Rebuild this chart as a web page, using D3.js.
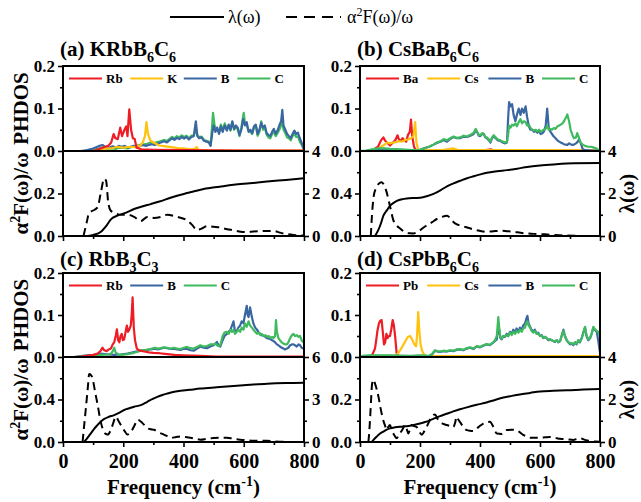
<!DOCTYPE html>
<html>
<head>
<meta charset="utf-8">
<script src="https://cdn.jsdelivr.net/npm/d3@7"></script>
<style>
  body { margin: 0; background: #fff; }
  svg { display: block; }
  #chart text, #chart tspan { font-family: "Liberation Serif", "Times New Roman", Tinos, serif !important; }
</style>
</head>
<body>
<svg id="chart" width="641" height="502"></svg>
<script>
// ---------- axis ticks ----------
const freqTicks = [0, 200, 400, 600, 800];
const freqMinor = [100, 300, 500, 700];
const phdosTicks = [0, 0.1, 0.2];
const phdosMinor = [0.05, 0.15];

// ---------- (a) KRbB6C6 : phonon DOS [frequency cm-1, states] ----------
const aRb = [[0,0],[100,0],[110,0.002],[125,0.006],[140,0.01],[150,0.012],[160,0.02],[168,0.04],[174,0.03],[182,0.028],[190,0.055],[196,0.035],[204,0.05],[210,0.058],[214,0.035],[220,0.098],[226,0.05],[232,0.03],[238,0.028],[244,0.008],[260,0.004],[300,0.003],[400,0.002],[600,0.001],[800,0.001]];
const aK = [[0,0],[100,0],[120,0.003],[140,0.006],[160,0.006],[180,0.01],[200,0.008],[220,0.01],[240,0.009],[255,0.012],[265,0.02],[272,0.035],[277,0.068],[282,0.04],[290,0.025],[300,0.02],[320,0.013],[340,0.011],[360,0.009],[380,0.007],[400,0.006],[420,0.004],[438,0.005],[444,0.009],[450,0.002],[480,0.001],[800,0.001]];
const aB = [[0,0],[60,0],[80,0.002],[100,0.006],[120,0.012],[132,0.014],[140,0.009],[155,0.008],[165,0.011],[175,0.008],[185,0.012],[195,0.01],[205,0.012],[215,0.008],[225,0.01],[235,0.012],[245,0.01],[255,0.012],[265,0.014],[275,0.012],[285,0.014],[295,0.016],[305,0.014],[315,0.018],[325,0.02],[335,0.023],[345,0.02],[355,0.026],[362,0.03],[370,0.026],[378,0.031],[386,0.028],[394,0.033],[402,0.029],[410,0.033],[418,0.027],[426,0.033],[434,0.035],[441,0.07],[446,0.035],[452,0.03],[460,0.032],[468,0.024],[476,0.022],[484,0.02],[490,0.012],[496,0.045],[500,0.06],[506,0.045],[512,0.055],[518,0.04],[524,0.058],[530,0.045],[537,0.06],[544,0.048],[550,0.062],[556,0.05],[562,0.07],[568,0.052],[574,0.06],[580,0.055],[586,0.038],[592,0.05],[598,0.075],[604,0.06],[610,0.068],[616,0.045],[622,0.05],[628,0.042],[634,0.058],[640,0.062],[646,0.04],[652,0.05],[658,0.066],[664,0.055],[670,0.06],[676,0.042],[682,0.038],[688,0.035],[694,0.045],[700,0.052],[706,0.04],[712,0.048],[718,0.06],[724,0.07],[728,0.097],[732,0.06],[738,0.05],[744,0.04],[750,0.035],[756,0.03],[762,0.04],[768,0.048],[774,0.04],[780,0.043],[786,0.03],[792,0.02],[800,0.005]];
const aC = [[0,0],[70,0],[90,0.002],[110,0.004],[130,0.008],[145,0.005],[160,0.006],[175,0.005],[185,0.008],[200,0.007],[215,0.006],[230,0.01],[245,0.012],[260,0.015],[275,0.016],[290,0.02],[305,0.019],[320,0.022],[335,0.026],[345,0.024],[355,0.029],[362,0.033],[370,0.03],[378,0.035],[386,0.032],[394,0.037],[402,0.033],[410,0.036],[418,0.03],[426,0.036],[434,0.037],[441,0.05],[446,0.037],[452,0.033],[460,0.034],[468,0.026],[476,0.024],[484,0.022],[490,0.014],[495,0.06],[498,0.09],[503,0.06],[510,0.05],[518,0.045],[524,0.062],[530,0.05],[537,0.065],[544,0.05],[550,0.06],[556,0.048],[562,0.068],[568,0.05],[574,0.058],[580,0.05],[586,0.035],[592,0.055],[600,0.09],[604,0.065],[610,0.06],[616,0.048],[622,0.045],[628,0.04],[634,0.055],[640,0.06],[646,0.036],[652,0.045],[658,0.07],[664,0.05],[670,0.055],[676,0.038],[682,0.032],[688,0.03],[694,0.04],[700,0.045],[706,0.035],[712,0.042],[718,0.05],[724,0.06],[728,0.07],[732,0.05],[738,0.042],[744,0.032],[750,0.03],[756,0.025],[762,0.035],[768,0.04],[774,0.033],[780,0.035],[786,0.022],[792,0.015],[800,0.003]];
// (a) electron-phonon: cumulative lambda and alpha^2F/omega
const aLambda = [[84,0],[100,0.05],[126,0.2],[145,0.5],[159,0.78],[181,0.96],[210,1.1],[236,1.27],[265,1.4],[291,1.5],[320,1.62],[357,1.8],[401,1.98],[430,2.08],[467,2.21],[520,2.32],[566,2.41],[620,2.48],[677,2.56],[740,2.64],[800,2.72]];
const aAlpha = [[68,0],[78,0.06],[87,0.11],[100,0.12],[115,0.135],[125,0.2],[137,0.27],[143,0.26],[150,0.16],[158,0.12],[170,0.11],[192,0.1],[214,0.1],[236,0.09],[258,0.07],[280,0.09],[302,0.085],[325,0.09],[346,0.1],[379,0.09],[412,0.073],[430,0.05],[445,0.027],[460,0.035],[478,0.046],[500,0.043],[522,0.04],[545,0.032],[566,0.027],[590,0.02],[610,0.018],[632,0.021],[654,0.023],[680,0.024],[699,0.024],[720,0.016],[743,0.009],[765,0.005],[787,0.003],[800,0.002]];

// ---------- (b) CsBaB6C6 ----------
const bBa = [[0,0],[30,0],[45,0.003],[60,0.01],[70,0.025],[78,0.032],[84,0.024],[90,0.02],[100,0.013],[110,0.02],[118,0.026],[125,0.037],[130,0.027],[136,0.024],[142,0.03],[148,0.026],[154,0.022],[160,0.038],[166,0.045],[170,0.074],[174,0.035],[180,0.01],[186,0.002],[200,0.001],[300,0.001],[420,0.002],[435,0.004],[450,0.001],[800,0.001]];
const bCs = [[0,0],[50,0],[60,0.004],[70,0.01],[80,0.014],[90,0.02],[100,0.018],[110,0.02],[120,0.021],[130,0.023],[140,0.022],[150,0.026],[160,0.027],[170,0.03],[178,0.035],[184,0.068],[188,0.02],[194,0.003],[220,0.002],[280,0.003],[300,0.005],[312,0.006],[325,0.003],[400,0.002],[600,0.002],[800,0.001]];
const bB = [[0,0],[20,0],[40,0.002],[60,0.004],[80,0.005],[100,0.004],[130,0.003],[160,0.002],[190,0.002],[200,0.003],[215,0.007],[230,0.01],[245,0.015],[256,0.019],[268,0.022],[279,0.026],[290,0.022],[300,0.028],[312,0.033],[322,0.03],[334,0.03],[345,0.034],[357,0.033],[368,0.036],[379,0.04],[386,0.048],[390,0.045],[396,0.036],[401,0.035],[407,0.04],[412,0.04],[418,0.032],[423,0.03],[430,0.025],[435,0.02],[440,0.03],[446,0.035],[452,0.03],[460,0.025],[468,0.024],[476,0.02],[484,0.018],[490,0.02],[494,0.08],[497,0.115],[502,0.105],[507,0.11],[512,0.085],[518,0.07],[523,0.085],[529,0.1],[535,0.085],[540,0.1],[546,0.09],[552,0.105],[557,0.08],[563,0.058],[568,0.05],[574,0.05],[580,0.045],[586,0.048],[591,0.043],[597,0.047],[602,0.04],[608,0.042],[613,0.046],[619,0.06],[624,0.1],[629,0.055],[635,0.045],[640,0.04],[646,0.034],[652,0.03],[658,0.025],[664,0.022],[669,0.02],[675,0.018],[680,0.016],[686,0.015],[691,0.014],[697,0.018],[702,0.016],[708,0.014],[713,0.015],[720,0.018],[726,0.022],[730,0.028],[735,0.02],[742,0.005],[750,0.002],[800,0]];
const bC = [[0,0],[20,0.001],[40,0.004],[60,0.006],[80,0.006],[100,0.005],[130,0.004],[160,0.003],[190,0.002],[200,0.003],[215,0.006],[230,0.01],[245,0.015],[256,0.02],[268,0.023],[279,0.028],[290,0.025],[300,0.03],[312,0.034],[322,0.031],[334,0.032],[345,0.036],[357,0.034],[368,0.038],[379,0.043],[386,0.052],[390,0.046],[396,0.038],[401,0.037],[407,0.042],[412,0.041],[418,0.033],[423,0.032],[430,0.027],[435,0.022],[440,0.032],[446,0.037],[452,0.032],[460,0.027],[468,0.025],[476,0.022],[484,0.02],[490,0.022],[494,0.04],[497,0.06],[502,0.055],[507,0.062],[512,0.06],[518,0.065],[523,0.058],[529,0.068],[535,0.075],[540,0.065],[546,0.07],[552,0.068],[557,0.06],[563,0.062],[568,0.055],[574,0.05],[580,0.048],[586,0.05],[591,0.046],[597,0.05],[602,0.045],[608,0.048],[613,0.05],[619,0.052],[624,0.06],[629,0.05],[635,0.052],[640,0.05],[646,0.054],[652,0.052],[658,0.058],[664,0.06],[669,0.062],[675,0.065],[680,0.07],[686,0.078],[691,0.086],[697,0.07],[702,0.05],[708,0.038],[713,0.03],[720,0.032],[724,0.042],[728,0.035],[735,0.02],[742,0.015],[750,0.012],[760,0.01],[770,0.01],[780,0.008],[790,0.005],[800,0]];
const bLambda = [[50,0],[60,0.25],[70,0.6],[78,0.96],[90,1.22],[100,1.42],[112,1.56],[123,1.65],[140,1.73],[156,1.77],[180,1.79],[201,1.8],[225,1.88],[245,1.98],[268,2.15],[290,2.34],[312,2.48],[334,2.6],[357,2.72],[379,2.81],[401,2.9],[423,2.98],[457,3.05],[490,3.1],[524,3.17],[557,3.25],[600,3.32],[646,3.37],[713,3.42],[800,3.43]];
const bAlpha = [[36,0],[40,0.2],[45,0.36],[53,0.45],[62,0.49],[72,0.507],[80,0.48],[88,0.42],[100,0.28],[111,0.15],[122,0.1],[134,0.07],[145,0.045],[156,0.03],[167,0.025],[178,0.024],[190,0.035],[201,0.055],[212,0.08],[223,0.1],[240,0.13],[256,0.16],[273,0.18],[290,0.19],[300,0.17],[312,0.13],[323,0.11],[334,0.1],[346,0.09],[357,0.08],[375,0.065],[390,0.055],[405,0.045],[423,0.04],[445,0.045],[468,0.049],[490,0.045],[513,0.04],[535,0.03],[557,0.024],[580,0.02],[602,0.018],[624,0.014],[646,0.01],[670,0.006],[691,0.004],[720,0.002],[758,0],[800,0]];

// ---------- (c) RbB3C3 ----------
const cRb = [[0,0],[45,0],[60,0.001],[80,0.003],[100,0.005],[115,0.008],[125,0.015],[131,0.022],[137,0.016],[145,0.014],[152,0.018],[159,0.02],[165,0.03],[170,0.035],[175,0.05],[179,0.066],[183,0.04],[187,0.035],[191,0.05],[195,0.055],[199,0.04],[203,0.042],[208,0.06],[212,0.075],[216,0.06],[220,0.065],[225,0.075],[228,0.1],[231,0.142],[235,0.07],[239,0.04],[245,0.02],[255,0.015],[270,0.013],[285,0.011],[300,0.01],[320,0.009],[346,0.007],[370,0.005],[400,0.004],[456,0.003],[510,0.001],[560,0.001],[800,0.001]];
const cB = [[0,0],[35,0],[60,0.002],[80,0.004],[104,0.005],[126,0.008],[150,0.006],[170,0.005],[190,0.006],[214,0.008],[236,0.012],[250,0.014],[260,0.015],[275,0.016],[291,0.018],[305,0.02],[315,0.018],[324,0.02],[335,0.022],[346,0.021],[357,0.019],[368,0.02],[379,0.018],[390,0.017],[401,0.02],[412,0.019],[423,0.016],[434,0.015],[445,0.02],[456,0.025],[467,0.022],[478,0.021],[489,0.025],[500,0.028],[506,0.032],[511,0.036],[516,0.028],[522,0.025],[530,0.04],[536,0.05],[544,0.055],[550,0.06],[556,0.065],[561,0.075],[566,0.085],[571,0.06],[577,0.062],[582,0.07],[588,0.075],[593,0.085],[599,0.08],[604,0.1],[610,0.122],[613,0.1],[616,0.095],[621,0.118],[627,0.095],[632,0.08],[638,0.07],[644,0.065],[650,0.058],[655,0.055],[660,0.052],[666,0.05],[672,0.048],[677,0.045],[683,0.044],[689,0.042],[694,0.04],[699,0.038],[704,0.035],[710,0.03],[715,0.028],[720,0.025],[726,0.022],[732,0.02],[737,0.018],[743,0.02],[748,0.022],[754,0.028],[760,0.03],[765,0.03],[770,0.028],[776,0.025],[782,0.03],[787,0.028],[792,0.022],[798,0.02],[800,0.02]];
const cC = [[0,0],[35,0],[60,0.001],[80,0.002],[104,0.003],[126,0.005],[150,0.006],[160,0.008],[166,0.015],[170,0.022],[175,0.01],[185,0.006],[195,0.005],[214,0.007],[236,0.01],[250,0.013],[260,0.016],[275,0.017],[291,0.019],[305,0.022],[315,0.02],[324,0.021],[335,0.023],[346,0.022],[357,0.02],[368,0.022],[379,0.02],[390,0.019],[401,0.022],[412,0.024],[423,0.021],[434,0.02],[445,0.024],[456,0.028],[467,0.025],[478,0.026],[489,0.03],[500,0.03],[506,0.032],[511,0.028],[516,0.026],[522,0.028],[530,0.05],[536,0.058],[544,0.06],[550,0.055],[556,0.065],[561,0.06],[566,0.065],[571,0.055],[577,0.06],[582,0.065],[588,0.06],[593,0.07],[599,0.065],[604,0.08],[610,0.072],[616,0.085],[621,0.075],[627,0.07],[632,0.065],[638,0.06],[644,0.055],[650,0.058],[655,0.052],[660,0.055],[666,0.05],[672,0.052],[677,0.048],[683,0.05],[689,0.045],[694,0.048],[699,0.045],[704,0.05],[707,0.088],[710,0.06],[715,0.045],[720,0.04],[726,0.035],[732,0.032],[737,0.03],[743,0.03],[748,0.035],[754,0.045],[760,0.052],[765,0.055],[770,0.05],[776,0.052],[782,0.048],[787,0.05],[792,0.04],[798,0.035],[800,0.035]];
const cLambda = [[70,0],[80,0.25],[93,0.63],[104,0.95],[115,1.21],[126,1.45],[137,1.63],[150,1.76],[170,1.9],[186,2.06],[203,2.26],[220,2.38],[236,2.49],[258,2.6],[280,2.84],[296,3.02],[313,3.19],[330,3.32],[346,3.42],[362,3.51],[379,3.58],[420,3.68],[456,3.77],[510,3.86],[566,3.95],[620,4.04],[677,4.12],[740,4.17],[800,4.19]];
const cAlpha = [[65,0],[70,0.15],[76,0.32],[82,0.5],[87,0.64],[93,0.63],[98,0.6],[106,0.48],[115,0.35],[123,0.22],[131,0.13],[140,0.08],[148,0.07],[159,0.115],[167,0.18],[175,0.24],[184,0.2],[192,0.16],[203,0.11],[214,0.07],[222,0.08],[230,0.115],[238,0.16],[247,0.21],[255,0.2],[263,0.18],[272,0.155],[280,0.13],[291,0.12],[302,0.115],[318,0.09],[335,0.07],[346,0.055],[357,0.04],[373,0.045],[390,0.053],[407,0.047],[423,0.04],[440,0.03],[456,0.022],[478,0.03],[500,0.037],[522,0.04],[544,0.04],[566,0.03],[588,0.022],[610,0.016],[632,0.012],[655,0.011],[677,0.012],[700,0.006],[720,0.003],[765,0],[800,0]];

// ---------- (d) CsPbB6C6 ----------
const dPb = [[0,0],[30,0],[40,0.004],[50,0.02],[55,0.045],[58,0.062],[63,0.08],[67,0.086],[72,0.088],[76,0.06],[80,0.03],[84,0.035],[88,0.055],[92,0.045],[96,0.05],[100,0.05],[104,0.065],[109,0.088],[113,0.075],[117,0.05],[122,0.01],[127,0.002],[140,0],[800,0]];
const dCs = [[0,0],[40,0],[80,0.001],[110,0.002],[122,0.005],[130,0.012],[139,0.022],[145,0.03],[150,0.036],[156,0.044],[161,0.048],[167,0.05],[172,0.044],[178,0.035],[183,0.028],[187,0.026],[190,0.05],[194,0.107],[198,0.06],[202,0.03],[207,0.015],[211,0.008],[220,0.003],[300,0.002],[450,0.002],[800,0.002]];
const dB = [[0,0],[10,0.002],[30,0.003],[60,0.003],[100,0.003],[140,0.003],[170,0.002],[200,0.003],[230,0.002],[240,0.006],[250,0.015],[258,0.013],[267,0.012],[278,0.014],[289,0.013],[300,0.015],[311,0.014],[322,0.017],[333,0.018],[344,0.016],[356,0.02],[367,0.022],[378,0.019],[389,0.025],[400,0.023],[411,0.027],[422,0.03],[433,0.028],[444,0.034],[450,0.038],[456,0.042],[461,0.07],[464,0.065],[468,0.045],[472,0.042],[478,0.05],[483,0.048],[489,0.055],[494,0.05],[500,0.06],[506,0.055],[511,0.065],[517,0.058],[522,0.068],[528,0.06],[533,0.07],[539,0.065],[544,0.075],[550,0.08],[554,0.09],[558,0.098],[562,0.08],[567,0.072],[572,0.065],[578,0.06],[583,0.065],[589,0.055],[594,0.058],[600,0.05],[606,0.052],[611,0.045],[617,0.048],[622,0.045],[628,0.04],[633,0.042],[639,0.04],[644,0.038],[650,0.036],[656,0.04],[661,0.035],[667,0.038],[672,0.05],[678,0.065],[683,0.05],[689,0.04],[694,0.035],[700,0.03],[706,0.032],[711,0.028],[717,0.035],[722,0.03],[728,0.04],[733,0.035],[739,0.045],[745,0.06],[750,0.07],[755,0.05],[761,0.04],[767,0.045],[772,0.055],[778,0.07],[783,0.065],[789,0.06],[794,0.04],[800,0.01]];
const dC = [[0,0],[10,0.003],[30,0.004],[60,0.004],[100,0.004],[140,0.003],[170,0.003],[200,0.004],[230,0.003],[240,0.007],[250,0.016],[258,0.014],[267,0.013],[278,0.015],[289,0.014],[300,0.016],[311,0.015],[322,0.018],[333,0.019],[344,0.017],[356,0.021],[367,0.023],[378,0.02],[389,0.026],[400,0.024],[411,0.028],[422,0.031],[433,0.029],[444,0.035],[450,0.04],[456,0.05],[461,0.095],[464,0.07],[468,0.046],[472,0.044],[478,0.05],[483,0.05],[489,0.052],[494,0.05],[500,0.058],[506,0.052],[511,0.06],[517,0.055],[522,0.062],[528,0.058],[533,0.065],[539,0.06],[544,0.068],[550,0.07],[554,0.08],[558,0.085],[562,0.075],[567,0.07],[572,0.062],[578,0.058],[583,0.062],[589,0.055],[594,0.056],[600,0.05],[606,0.05],[611,0.046],[617,0.048],[622,0.045],[628,0.042],[633,0.042],[639,0.04],[644,0.038],[650,0.037],[656,0.04],[661,0.036],[667,0.038],[672,0.05],[678,0.062],[683,0.05],[689,0.04],[694,0.036],[700,0.032],[706,0.033],[711,0.03],[717,0.035],[722,0.032],[728,0.04],[733,0.036],[739,0.045],[745,0.058],[750,0.072],[755,0.052],[761,0.042],[767,0.046],[772,0.055],[778,0.072],[783,0.066],[789,0.062],[794,0.06],[800,0.05]];
const dLambda = [[39,0],[45,0.1],[56,0.26],[67,0.4],[78,0.49],[89,0.58],[100,0.64],[117,0.69],[133,0.72],[150,0.74],[167,0.76],[183,0.81],[200,0.87],[217,0.94],[233,1.02],[250,1.12],[267,1.22],[289,1.33],[311,1.44],[333,1.54],[356,1.63],[389,1.75],[422,1.86],[450,1.98],[478,2.09],[506,2.17],[533,2.24],[567,2.31],[600,2.38],[644,2.41],[689,2.43],[744,2.47],[800,2.5]];
const dAlpha = [[28,0],[31,0.05],[34,0.12],[37,0.2],[40,0.27],[44,0.293],[50,0.275],[56,0.247],[62,0.21],[67,0.17],[72,0.135],[78,0.1],[84,0.075],[89,0.056],[94,0.07],[100,0.08],[105,0.06],[111,0.04],[116,0.028],[122,0.018],[128,0.028],[133,0.04],[142,0.06],[150,0.08],[156,0.06],[161,0.04],[167,0.06],[172,0.08],[180,0.075],[189,0.07],[197,0.05],[206,0.034],[214,0.05],[222,0.07],[230,0.095],[239,0.12],[250,0.13],[258,0.11],[267,0.095],[278,0.085],[289,0.08],[300,0.075],[311,0.07],[317,0.09],[322,0.12],[328,0.105],[333,0.095],[345,0.07],[356,0.056],[367,0.053],[378,0.052],[395,0.07],[411,0.087],[422,0.093],[433,0.095],[445,0.07],[456,0.04],[472,0.038],[489,0.056],[505,0.058],[522,0.056],[533,0.045],[544,0.034],[556,0.026],[567,0.02],[583,0.02],[600,0.02],[617,0.022],[633,0.024],[650,0.02],[667,0.015],[689,0.013],[711,0.01],[722,0.014],[733,0.018],[750,0.01],[767,0.005],[784,0.002],[800,0.001]];

// ---------- element colours ----------
const elementColor = { Rb: "#ee1c24", Ba: "#ee1c24", Pb: "#ee1c24", K: "#ffc20e", Cs: "#ffc20e", B: "#3a67a2", C: "#3fba5e" };

// ---------- panel definitions ----------
const panels = [
  { id: "a", title: ["(a) KRbB", "6", "C", "6"], x0: 63, x1: 304, top: 66, mid: 151, bot: 236, titleY: 56,
    legend: ["Rb", "K", "B", "C"], dos: [["C", aC], ["B", aB], ["K", aK], ["Rb", aRb]],
    lambda: aLambda, alpha: aAlpha, aMax: 0.4, aTicks: [0, 0.2], aMinor: [0.1, 0.3],
    lMax: 4, lTicks: [0, 2, 4], lMinor: [1, 3], bottomLabels: false, lambdaTitle: false },
  { id: "b", title: ["(b) CsBaB", "6", "C", "6"], x0: 360, x1: 600, top: 66, mid: 151, bot: 236, titleY: 56,
    legend: ["Ba", "Cs", "B", "C"], dos: [["Ba", bBa], ["Cs", bCs], ["B", bB], ["C", bC]],
    lambda: bLambda, alpha: bAlpha, aMax: 0.8, aTicks: [0, 0.4], aMinor: [0.2, 0.6],
    lMax: 4, lTicks: [0, 2, 4], lMinor: [1, 3], bottomLabels: false, lambdaTitle: true },
  { id: "c", title: ["(c) RbB", "3", "C", "3"], x0: 63, x1: 304, top: 273, mid: 357, bot: 442, titleY: 266,
    legend: ["Rb", "B", "C"], dos: [["B", cB], ["C", cC], ["Rb", cRb]],
    lambda: cLambda, alpha: cAlpha, aMax: 0.8, aTicks: [0, 0.4], aMinor: [0.2, 0.6],
    lMax: 6, lTicks: [0, 3, 6], lMinor: [1.5, 4.5], bottomLabels: true, lambdaTitle: false },
  { id: "d", title: ["(d) CsPbB", "6", "C", "6"], x0: 360, x1: 600, top: 273, mid: 357, bot: 442, titleY: 266,
    legend: ["Pb", "Cs", "B", "C"], dos: [["Pb", dPb], ["Cs", dCs], ["B", dB], ["C", dC]],
    lambda: dLambda, alpha: dAlpha, aMax: 0.4, aTicks: [0, 0.2], aMinor: [0.1, 0.3],
    lMax: 4, lTicks: [0, 2, 4], lMinor: [1, 3], bottomLabels: true, lambdaTitle: true }
];

const SERIF = "Liberation Serif";
const svg = d3.select("#chart");
const defs = svg.append("defs");
const fmt1 = d3.format(".1f");

function styleAxis(g, fontSize) {
  g.attr("font-family", null).attr("font-size", null);
  g.select(".domain").remove();
  g.selectAll(".tick line").attr("stroke", "#000").attr("stroke-width", 1.6);
  g.selectAll(".tick text")
    .attr("fill", "#000")
    .attr("font-family", SERIF)
    .style("font-family", SERIF)
    .attr("font-weight", "bold")
    .attr("font-size", fontSize);
}

function addAxis(parent, axis, transform, fontSize) {
  const g = parent.append("g").attr("transform", transform).call(axis);
  styleAxis(g, fontSize);
  return g;
}

function addText(parent) {
  return parent.append("text").attr("font-family", SERIF).style("font-family", SERIF).attr("fill", "#000");
}

// rich text helper: parts alternate normal / subscript or superscript
function richText(sel, parts, mode, bigSize, smallSize, shift) {
  parts.forEach((p, i) => {
    const small = i % 2 === 1;
    const t = sel.append("tspan").text(p);
    if (small) {
      t.attr("font-size", smallSize).attr("dy", mode === "sub" ? shift : -shift);
    } else if (i > 0) {
      t.attr("font-size", bigSize).attr("dy", mode === "sub" ? -shift : shift);
    }
  });
}

panels.forEach(p => {
  const g = svg.append("g");
  const x = d3.scaleLinear().domain([0, 800]).range([p.x0, p.x1]);
  const yDos = d3.scaleLinear().domain([0, 0.2]).range([p.mid, p.top]);
  const yAlpha = d3.scaleLinear().domain([0, p.aMax]).range([p.bot, p.mid]);
  const yLam = d3.scaleLinear().domain([0, p.lMax]).range([p.bot, p.mid]);

  defs.append("clipPath").attr("id", "clipTop-" + p.id)
    .append("rect").attr("x", p.x0).attr("y", p.top).attr("width", p.x1 - p.x0).attr("height", p.mid - p.top + 1.2);
  defs.append("clipPath").attr("id", "clipBot-" + p.id)
    .append("rect").attr("x", p.x0).attr("y", p.mid).attr("width", p.x1 - p.x0).attr("height", p.bot - p.mid);

  // phonon DOS curves
  const dosLine = d3.line().x(d => x(d[0])).y(d => yDos(d[1]));
  const gTop = g.append("g").attr("clip-path", `url(#clipTop-${p.id})`);
  p.dos.forEach(([el, data]) => {
    gTop.append("path").datum(data)
      .attr("d", dosLine)
      .attr("fill", "none")
      .attr("stroke", elementColor[el])
      .attr("stroke-width", 2.2)
      .attr("stroke-linejoin", "round");
  });

  // electron-phonon curves
  const gBot = g.append("g").attr("clip-path", `url(#clipBot-${p.id})`);
  gBot.append("path").datum(p.alpha)
    .attr("d", d3.line().x(d => x(d[0])).y(d => yAlpha(d[1])).curve(d3.curveMonotoneX))
    .attr("fill", "none").attr("stroke", "#000").attr("stroke-width", 2)
    .attr("stroke-dasharray", "8,5");
  gBot.append("path").datum(p.lambda)
    .attr("d", d3.line().x(d => x(d[0])).y(d => yLam(d[1])).curve(d3.curveMonotoneX))
    .attr("fill", "none").attr("stroke", "#000").attr("stroke-width", 2);

  // frames
  g.append("rect").attr("x", p.x0).attr("y", p.top).attr("width", p.x1 - p.x0).attr("height", p.mid - p.top)
    .attr("fill", "none").attr("stroke", "#000").attr("stroke-width", 2);
  g.append("rect").attr("x", p.x0).attr("y", p.mid).attr("width", p.x1 - p.x0).attr("height", p.bot - p.mid)
    .attr("fill", "none").attr("stroke", "#000").attr("stroke-width", 2);

  // left axes
  addAxis(g, d3.axisLeft(yDos).tickValues(phdosTicks).tickFormat(fmt1).tickSize(5).tickPadding(3), `translate(${p.x0},0)`, 17);
  addAxis(g, d3.axisLeft(yDos).tickValues(phdosMinor).tickFormat("").tickSize(3), `translate(${p.x0},0)`, 17);
  addAxis(g, d3.axisLeft(yAlpha).tickValues(p.aTicks).tickFormat(fmt1).tickSize(5).tickPadding(3), `translate(${p.x0},0)`, 17);
  addAxis(g, d3.axisLeft(yAlpha).tickValues(p.aMinor).tickFormat("").tickSize(3), `translate(${p.x0},0)`, 17);

  // right lambda axis
  addAxis(g, d3.axisRight(yLam).tickValues(p.lTicks).tickFormat(d3.format("d")).tickSize(5).tickPadding(3), `translate(${p.x1},0)`, 17);
  addAxis(g, d3.axisRight(yLam).tickValues(p.lMinor).tickFormat("").tickSize(3), `translate(${p.x1},0)`, 17);

  // bottom frequency axis
  addAxis(g, d3.axisBottom(x).tickValues(freqTicks).tickFormat(p.bottomLabels ? d3.format("d") : "").tickSize(5).tickPadding(7), `translate(0,${p.bot})`, 20);
  addAxis(g, d3.axisBottom(x).tickValues(freqMinor).tickFormat("").tickSize(3), `translate(0,${p.bot})`, 20);

  // panel title
  const title = addText(g).attr("x", p.x0 - 3).attr("y", p.titleY)
    .attr("font-size", 21).attr("font-weight", "bold");
  richText(title, p.title, "sub", 21, 14, 6);

  // element legend (item advance estimated from label length)
  let lx = p.x0 + 6;
  const ly = p.top + 12.5;
  p.legend.forEach(el => {
    g.append("line").attr("x1", lx).attr("x2", lx + 33).attr("y1", ly).attr("y2", ly)
      .attr("stroke", elementColor[el]).attr("stroke-width", 2.2);
    addText(g).attr("x", lx + 37).attr("y", ly + 4.5)
      .attr("font-size", 13).attr("font-weight", "bold").text(el);
    lx += 37 + el.length * 7.6 + 9;
  });

  // y axis titles
  const yc1 = (p.top + p.mid) / 2, yc2 = (p.mid + p.bot) / 2;
  if (p.x0 < 100) {
    addText(g).attr("transform", `translate(28,${yc1}) rotate(-90)`)
      .attr("text-anchor", "middle").attr("font-size", 21).attr("font-weight", "bold").text("PHDOS");
    const t2 = addText(g).attr("transform", `translate(28,${yc2}) rotate(-90)`)
      .attr("text-anchor", "middle").attr("font-size", 21).attr("font-weight", "bold");
    richText(t2, ["α", "2", "F(ω)/ω"], "sup", 21, 14, 8);
  }
  if (p.lambdaTitle) {
    addText(g).attr("transform", `translate(634,${yc2}) rotate(-90)`)
      .attr("text-anchor", "middle").attr("font-size", 21).attr("font-weight", "bold").text("λ(ω)");
  }
  if (p.bottomLabels) {
    const ft = addText(g).attr("x", (p.x0 + p.x1) / 2).attr("y", 494)
      .attr("text-anchor", "middle").attr("font-size", 21).attr("font-weight", "bold");
    richText(ft, ["Frequency (cm", "-1", ")"], "sup", 21, 14, 8);
  }
});

// ---------- top legend ----------
const lg = svg.append("g");
lg.append("line").attr("x1", 170).attr("x2", 224).attr("y1", 17).attr("y2", 17)
  .attr("stroke", "#000").attr("stroke-width", 2);
addText(lg).attr("x", 228).attr("y", 23).attr("font-size", 18).text("λ(ω)");
lg.append("line").attr("x1", 286).attr("x2", 341).attr("y1", 17).attr("y2", 17)
  .attr("stroke", "#000").attr("stroke-width", 2).attr("stroke-dasharray", "11,7");
const lt = addText(lg).attr("x", 347).attr("y", 23).attr("font-size", 18);
richText(lt, ["α", "2", "F(ω)/ω"], "sup", 18, 12, 7);
</script>
</body>
</html>
